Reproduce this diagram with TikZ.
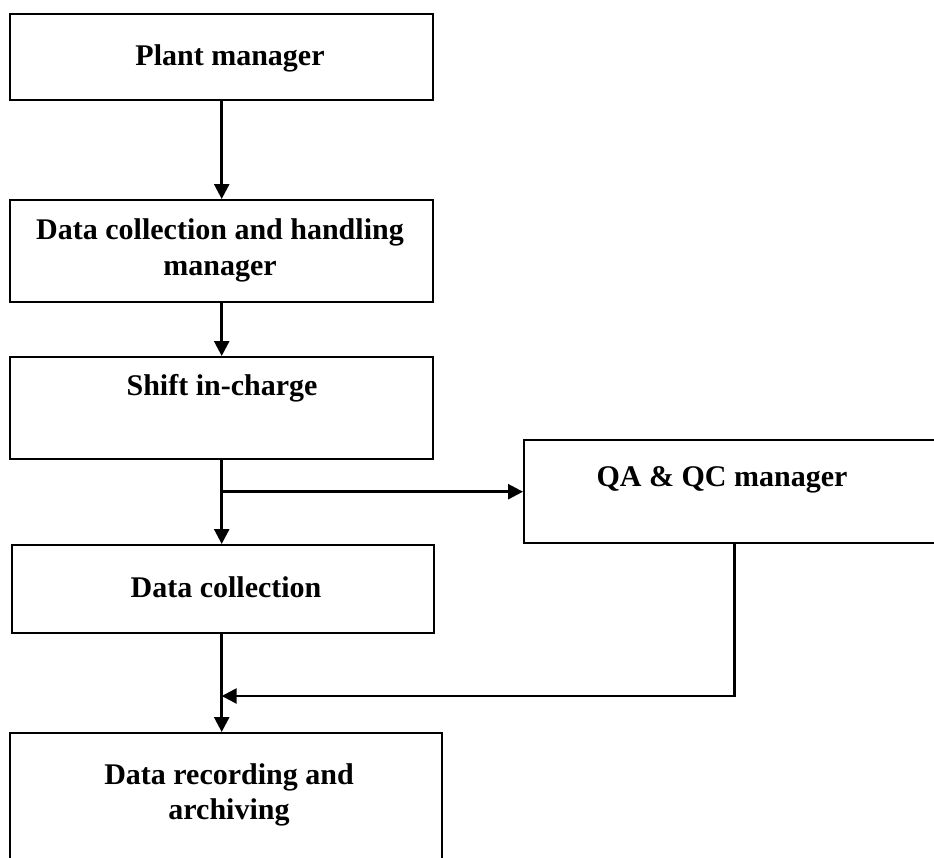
\documentclass[tikz,border=0pt]{standalone}
\usepackage{fontspec}
\setmainfont{Liberation Serif}
\usetikzlibrary{arrows.meta}
\begin{document}
\begin{tikzpicture}[x=1pt,y=-1pt,
  box/.style={draw, line width=2.4pt, inner sep=0pt, anchor=north west},
  lbl/.style={font=\fontsize{30}{36}\selectfont\bfseries, align=center, inner sep=0pt},
  arr/.style={line width=2.6pt, -{Triangle[length=15pt,width=15pt]}},
  ln/.style={line width=2.6pt}]
\useasboundingbox (0,0) rectangle (934,857);
\clip (0,0) rectangle (934,857);
% boxes
\node[box, minimum width=423pt, minimum height=86pt] (b1) at (9,13) {};
\node[box, minimum width=423pt, minimum height=102pt] (b2) at (9,199) {};
\node[box, minimum width=423pt, minimum height=102pt] (b3) at (9,356) {};
\node[box, minimum width=422pt, minimum height=88pt] (b4) at (11,544) {};
\node[box, minimum width=420pt, minimum height=103pt] (qa) at (523,439) {};
\node[box, minimum width=432pt, minimum height=140pt] (b5) at (9,732) {};
% labels
\node[lbl] (t1) at (230,58) {Plant manager};
\node[lbl] (t2) at (220,250) {Data collection and handling\\manager};
\node[lbl] (t3) at (222,388) {Shift in-charge};
\node[lbl] (t4) at (226,587) {Data collection};
\node[lbl] (tqa) at (722,480) {QA \& QC manager};
\node[lbl, font=\fontsize{30}{35}\selectfont\bfseries] (t5) at (229,795) {Data recording and\\archiving};
% connectors
\coordinate (jy) at (0,696);
\draw[arr] (b1.south) -- (b2.north);
\draw[arr] (b2.south) -- (b3.north);
\draw[arr] (b3.south) -- (b3.south |- b4.north);
\draw[arr] (b3.south |- qa.west) -- (qa.west);
\draw[arr] (b3.south |- b4.south) -- (b3.south |- b5.north);
\draw[arr] (qa.south) |- (b3.south |- jy);
\end{tikzpicture}
\end{document}
